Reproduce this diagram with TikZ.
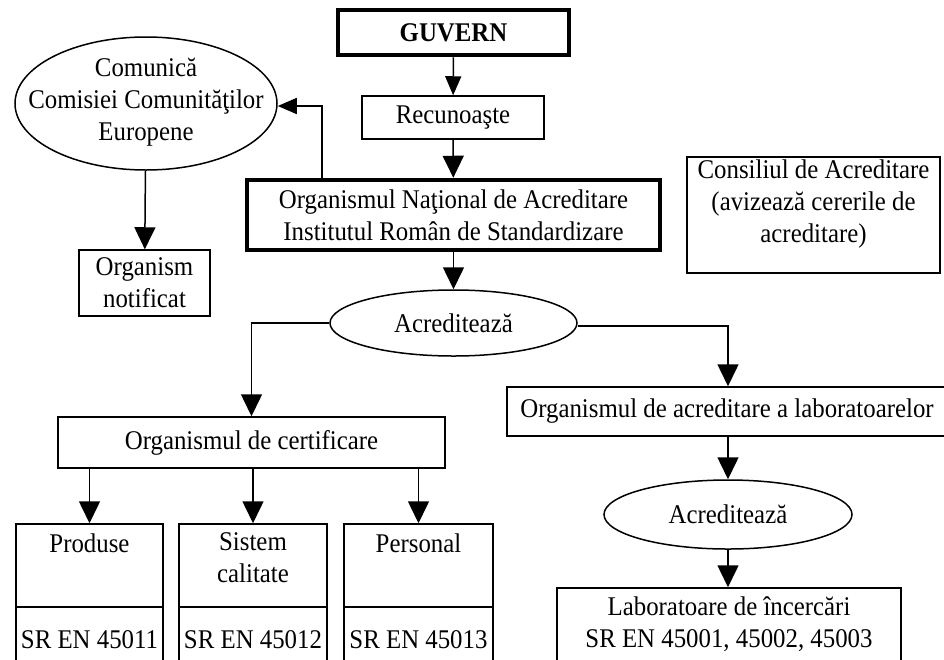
\documentclass[tikz,border=0pt]{standalone}
\usepackage{fontspec}
\setmainfont{Liberation Serif}[FakeStretch=0.92]
\usetikzlibrary{arrows.meta,shapes.geometric}
\begin{document}
\begin{tikzpicture}[x=1pt,y=-1pt,
  font=\fontsize{27}{32}\selectfont,
  box/.style={draw, line width=1.5pt, rectangle, inner sep=0pt, align=center},
  thickbox/.style={box, line width=4.5pt},
  oval/.style={draw, line width=1.5pt, ellipse, inner sep=0pt},
  txt/.style={inner sep=0pt, align=center},
  arr/.style={line width=1.5pt, -{Triangle[width=21pt,length=22pt]}},
  arrs/.style={line width=1.5pt, -{Triangle[width=16pt,length=19pt]}}]
\useasboundingbox (0,0) rectangle (944,659);
\clip (0,0) rectangle (944,659);
\fill[white] (0,0) rectangle (944,659);

% top chain
\node[thickbox, minimum width=231, minimum height=45] (guv) at (453.5,32.5) {\bfseries GUVERN};
\node[box, minimum width=182, minimum height=43] (rec) at (453,117.5) {Recunoaşte};
\node[thickbox, minimum width=413, minimum height=70] (ona) at (453.5,215) {Organismul Naţional de Acreditare\\Institutul Român de Standardizare};
\node[oval, minimum width=262, minimum height=133] (com) at (146,103.5) {};
\node[txt] (comt) at (146,102.5) {Comunică\\Comisiei Comunităţilor\\Europene};
\node[box, minimum width=131, minimum height=66] (not) at (144.5,283) {Organism\\notificat};
\node[box, minimum width=253, minimum height=116] (cons) at (813.5,215) {};
\node[txt] (const) at (813.5,204) {Consiliul de Acreditare\\(avizează cererile de\\acreditare)};
\node[oval, minimum width=247, minimum height=66] (acr) at (453.5,323) {};
\node[txt] (acrt) at (453.5,323) {Acreditează};

% certification branch
\node[box, minimum width=387, minimum height=51] (cert) at (251.5,442.5) {Organismul de certificare};
\node[box, minimum width=147, minimum height=83] (p1) at (89.5,565.5) {};
\node[box, minimum width=147, minimum height=70] (p2) at (89.5,642) {};
\node[box, minimum width=148, minimum height=83] (s1) at (253,565.5) {};
\node[box, minimum width=148, minimum height=70] (s2) at (253,642) {};
\node[box, minimum width=149, minimum height=83] (e1) at (418.5,565.5) {};
\node[box, minimum width=149, minimum height=70] (e2) at (418.5,642) {};
\node[txt] (p1t) at (89.5,543) {Produse};
\node[txt] (s1t) at (253,558) {Sistem\\calitate};
\node[txt] (e1t) at (418.5,543) {Personal};
\node[txt] (p2t) at (89.5,640) {SR EN 45011};
\node[txt] (s2t) at (253,640) {SR EN 45012};
\node[txt] (e2t) at (418.5,640) {SR EN 45013};

% laboratory branch
\node[box, minimum width=450, minimum height=49] (lab) at (732,411.5) {};
\node[txt] (labt) at (727,411) {Organismul de acreditare a laboratoarelor};
\node[oval, minimum width=248, minimum height=69] (acr2) at (728,514.5) {};
\node[txt] (acr2t) at (728,514.5) {Acreditează};
\node[box, minimum width=344, minimum height=100] (inc) at (729,638) {};
\node[txt] (inct) at (729,624) {Laboratoare de încercări\\SR EN 45001, 45002, 45003};

% connectors
\draw[arrs] (guv) -- (rec);
\draw[arr] (rec) -- (ona);
\draw[arrs] ([xshift=-131.5]ona.north) |- ([yshift=-2.5]com.east);
\draw[arr] (com) -- (not);
\draw[arr] (ona) -- (acr);
\draw[arr] (acr.west) -| (cert.north);
\draw[arr] ([yshift=-3]acr.east) -| (lab.north -| acr2.north);
\draw[arr] (lab.south -| acr2.north) -- (acr2);
\draw[arr] (acr2) -- (inc.north -| acr2.south);
\draw[arr] (cert.south -| p1.north) -- (p1);
\draw[arr] (cert.south -| s1.north) -- (s1);
\draw[arr] (cert.south -| e1.north) -- (e1);
\end{tikzpicture}
\end{document}
